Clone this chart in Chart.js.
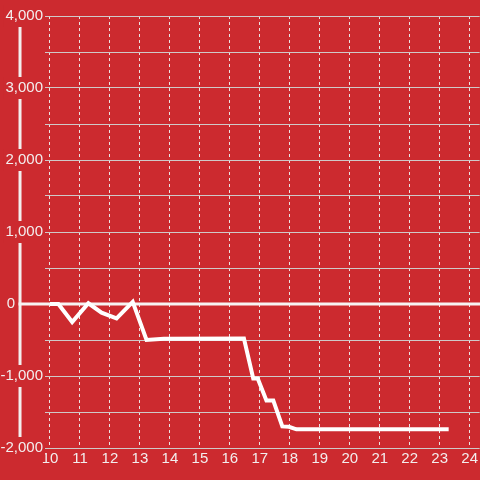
<!DOCTYPE html>
<html>
<head>
<meta charset="utf-8">
<script src="https://cdn.jsdelivr.net/npm/chart.js@4/dist/chart.umd.min.js"></script>
<style>
  html, body { margin: 0; padding: 0; background: #cc2a2f; }
  #wrap { width: 480px; height: 480px; }
</style>
</head>
<body>
<div id="wrap"><canvas id="c" width="480" height="480"></canvas></div>
<script>
// ---- data ----
const seriesX = [10.0, 10.28, 10.74, 11.28, 11.72, 12.22, 12.76, 13.22, 13.8, 16.47, 16.78, 16.93, 17.22, 17.45, 17.75, 17.97, 18.22, 23.3];
const seriesY = [0, 0, -250, 10, -120, -200, 30, -500, -482, -480, -1035, -1035, -1340, -1340, -1700, -1705, -1740, -1740];
const xTickValues = [10, 11, 12, 13, 14, 15, 16, 17, 18, 19, 20, 21, 22, 23, 24];
const yGridValues = [-2000, -1500, -1000, -500, 0, 500, 1000, 1500, 2000, 2500, 3000, 3500, 4000];
const yLabelValues = [-2000, -1000, 0, 1000, 2000, 3000, 4000];
const zeroLineX = [9, 24.5];
const zeroLineY = [0, 0];
const axisLineX = [9, 9];
const axisLineY = [4000, -2000];
const axisRange = { xMin: 9.8333, xMax: 24.3333, yMin: -2000, yMax: 4000 };

const BG = '#cc2a2f';
const TEXT = '#f3eeee';
const FONT = { family: "'Liberation Sans', Arial, sans-serif", size: 15 };

const lineData = seriesX.map((x, i) => ({ x: x, y: seriesY[i] }));
const zeroData = zeroLineX.map((x, i) => ({ x: x, y: zeroLineY[i] }));
const axisData = axisLineX.map((x, i) => ({ x: x, y: axisLineY[i] }));

function yLabel(v) {
  if (!yLabelValues.includes(v)) return '';
  if (v === 0) return '0\u2007\u2007\u2007\u2009';
  return v.toLocaleString('en-US');
}

new Chart(document.getElementById('c'), {
  type: 'line',
  data: {
    datasets: [
      {
        data: lineData,
        borderColor: '#ffffff',
        borderWidth: 4,
        pointRadius: 0,
        tension: 0,
        borderJoinStyle: 'miter',
        borderCapStyle: 'butt',
        fill: false
      },
      {
        data: zeroData,
        borderColor: '#f7f3f3',
        borderWidth: 3,
        pointRadius: 0,
        borderCapStyle: 'square',
        clip: false,
        fill: false
      },
      {
        data: axisData,
        borderColor: '#f3eeee',
        borderWidth: 3,
        pointRadius: 0,
        borderCapStyle: 'butt',
        clip: false,
        fill: false
      }
    ]
  },
  options: {
    responsive: false,
    animation: false,
    events: [],
    layout: { padding: { top: 16, right: 0, bottom: 0, left: 0 } },
    plugins: { legend: { display: false }, tooltip: { enabled: false } },
    scales: {
      x: {
        type: 'linear',
        min: axisRange.xMin,
        max: axisRange.xMax,
        afterBuildTicks: (s) => { s.ticks = xTickValues.map(v => ({ value: v })); },
        afterFit: (s) => { s.height = 32; },
        grid: { color: '#ebe3e3', lineWidth: 1, drawTicks: false },
        border: { display: false, dash: [3, 3] },
        ticks: { color: TEXT, font: FONT, padding: 2, autoSkip: false, maxRotation: 0,
                 callback: (v) => String(v) }
      },
      y: {
        type: 'linear',
        position: 'left',
        min: axisRange.yMin,
        max: axisRange.yMax,
        afterBuildTicks: (s) => { s.ticks = yGridValues.map(v => ({ value: v })); },
        afterFit: (s) => { s.width = 45; },
        grid: { color: '#cfc9c9', lineWidth: 1, drawTicks: false },
        border: { display: false },
        ticks: {
          z: 1,
          color: TEXT,
          font: FONT,
          padding: 2,
          autoSkip: false,
          callback: (v) => yLabel(v),
          showLabelBackdrop: (ctx) => yLabelValues.includes(ctx.tick.value) && ctx.tick.value !== 0,
          backdropColor: BG,
          backdropPadding: 2
        }
      }
    }
  }
});
</script>
</body>
</html>
